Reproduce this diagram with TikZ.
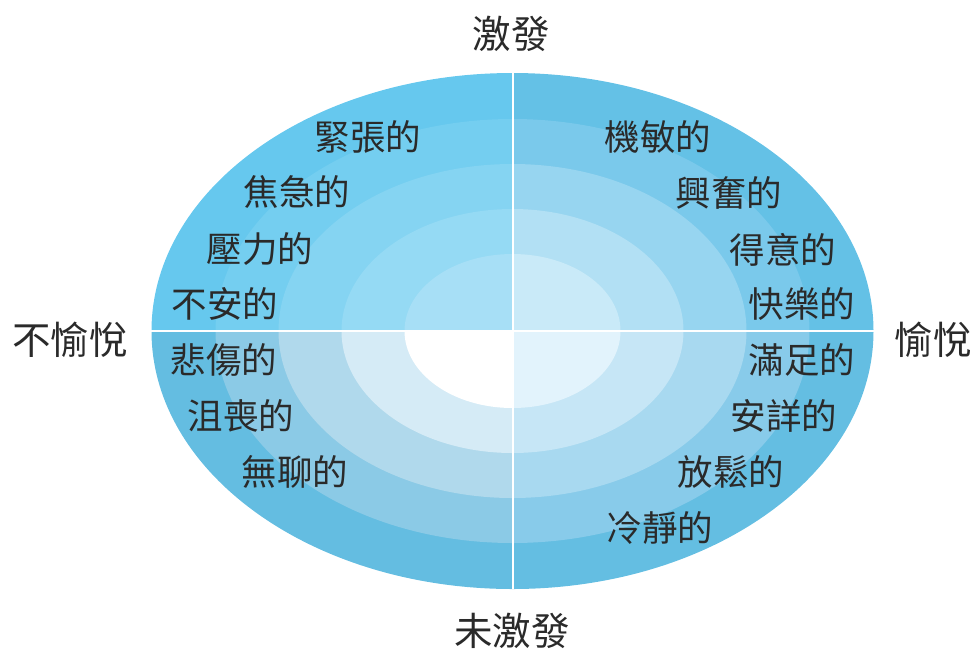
\documentclass[tikz,border=0pt]{standalone}
\usepackage{fontspec}
\setmainfont{Noto Sans CJK TC}
\definecolor{txt}{HTML}{2A2A2A}
\definecolor{tlA}{HTML}{66C8EE}
\definecolor{tlB}{HTML}{74CEF0}
\definecolor{tlC}{HTML}{85D4F2}
\definecolor{tlD}{HTML}{95DAF4}
\definecolor{tlE}{HTML}{A7DFF6}
\definecolor{trA}{HTML}{64C1E6}
\definecolor{trB}{HTML}{7AC9EB}
\definecolor{trC}{HTML}{97D5F0}
\definecolor{trD}{HTML}{B2E0F4}
\definecolor{trE}{HTML}{C9EAF8}
\definecolor{blA}{HTML}{64BDE1}
\definecolor{blB}{HTML}{8BCAE6}
\definecolor{blC}{HTML}{B0D9EC}
\definecolor{blD}{HTML}{D5EBF6}
\definecolor{blE}{HTML}{FFFFFF}
\definecolor{brA}{HTML}{64BEE2}
\definecolor{brB}{HTML}{88CBEA}
\definecolor{brC}{HTML}{A8D9F0}
\definecolor{brD}{HTML}{C6E6F6}
\definecolor{brE}{HTML}{E2F3FC}
\begin{document}
\begin{tikzpicture}[x=1pt,y=-1pt,
  lbl/.style={font=\fontsize{35.5}{35.5}\selectfont, text=txt, inner sep=0pt, anchor=center},
  axislbl/.style={font=\fontsize{38.5}{38.5}\selectfont, text=txt, inner sep=0pt, anchor=center},
  divider/.style={draw=white, line width=2pt}]
\useasboundingbox (0,0) rectangle (977,649);
\coordinate (c) at (512.5,331);
\newcommand{\rings}[5]{%
  \fill[#1] (c) ellipse [x radius=361pt, y radius=258pt];
  \fill[#2] (c) ellipse [x radius=297pt, y radius=212pt];
  \fill[#3] (c) ellipse [x radius=234pt, y radius=167pt];
  \fill[#4] (c) ellipse [x radius=171pt, y radius=122pt];
  \fill[#5] (c) ellipse [x radius=108pt, y radius=77pt];}
\begin{scope}\clip (c) rectangle (0,0);\rings{tlA}{tlB}{tlC}{tlD}{tlE}\end{scope}
\begin{scope}\clip (c) rectangle (977,0);\rings{trA}{trB}{trC}{trD}{trE}\end{scope}
\begin{scope}\clip (c) rectangle (0,649);\rings{blA}{blB}{blC}{blD}{blE}\end{scope}
\begin{scope}\clip (c) rectangle (977,649);\rings{brA}{brB}{brC}{brD}{brE}\end{scope}
\coordinate (hl) at (151,331);
\coordinate (hr) at (874,331);
\coordinate (vt) at (512.5,73);
\coordinate (vb) at (512.5,589);
\draw[divider] (hl) -- (hr);
\draw[divider] (vt) -- (vb);
% axis labels
\node[axislbl] (top) at (511,34) {激發};
\node[axislbl] (bot) at (512,631) {未激發};
\node[axislbl] (left) at (70,340) {不愉悅};
\node[axislbl] (right) at (933,340) {愉悅};
% top-left
\node[lbl] (a1) at (368,137) {緊張的};
\node[lbl] (a2) at (297,192) {焦急的};
\node[lbl] (a3) at (260,249) {壓力的};
\node[lbl] (a4) at (225,304) {不安的};
% top-right
\node[lbl] (b1) at (658,137) {機敏的};
\node[lbl] (b2) at (729,193) {興奮的};
\node[lbl] (b3) at (783,250) {得意的};
\node[lbl] (b4) at (802,304) {快樂的};
% bottom-left
\node[lbl] (c1) at (224,360) {悲傷的};
\node[lbl] (c2) at (241,416) {沮喪的};
\node[lbl] (c3) at (295,472) {無聊的};
% bottom-right
\node[lbl] (d1) at (802,360) {滿足的};
\node[lbl] (d2) at (784,416) {安詳的};
\node[lbl] (d3) at (731,472) {放鬆的};
\node[lbl] (d4) at (660,528) {冷靜的};
\end{tikzpicture}
\end{document}
